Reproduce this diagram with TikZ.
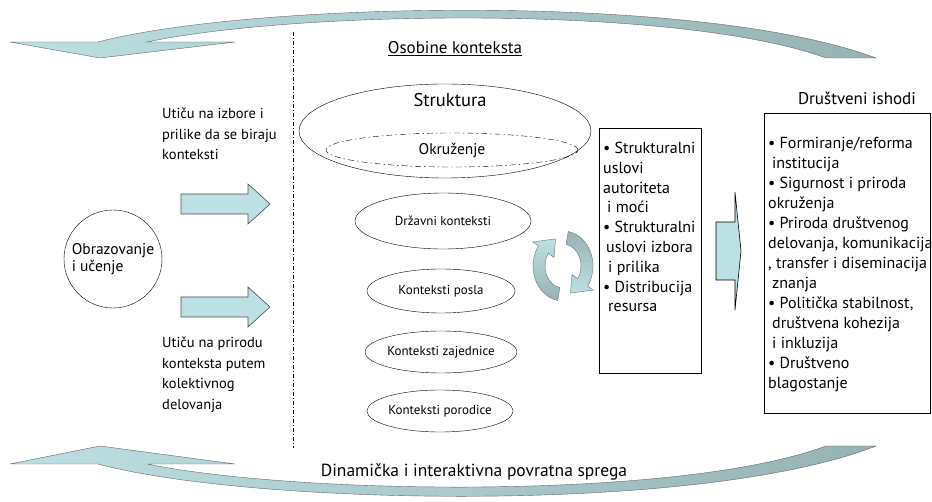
\documentclass[tikz,border=0pt]{standalone}
\usepackage{fontspec}
\setmainfont{PT Sans}
\usetikzlibrary{calc,shapes.geometric}
\definecolor{arrowlight}{HTML}{BCE0E3}
\definecolor{arrowdark}{HTML}{97B2B3}
\begin{document}
\begin{tikzpicture}[x=1pt, y=-1pt,
    blockarrow/.style={fill=arrowlight, draw=black!70, line width=0.6pt},
    feedback/.style={left color=arrowlight, right color=arrowdark, draw=black!60, line width=0.4pt},
    ctx/.style={draw, ellipse, inner sep=0pt, font=\fontsize{13}{15}\selectfont},
    txt/.style={anchor=north west, inner sep=0pt, align=left},
    box/.style={draw, anchor=north west, inner sep=0pt}]
    \useasboundingbox (0,0) rectangle (932,502);

    % povratna sprega
    \draw[feedback] (10,42) -- (98,42) .. controls (250,2) and (700,-8) .. (876,58) -- (826,58)
        .. controls (680,5) and (300,10) .. (147,42) -- (235,42) -- (100,58) -- cycle;
    \draw[feedback] (10,464) -- (98,464) .. controls (250,505) and (700,515) .. (876,446) -- (826,446)
        .. controls (680,500) and (300,495) .. (147,464) -- (235,464) -- (100,446) -- cycle;
    \node[font=\fontsize{17.5}{20}\selectfont] (sprega) at (474,472) {Dinamička i interaktivna povratna sprega};

    \draw[dash pattern=on 4pt off 2pt on 1pt off 2pt] (293,32) -- (293,448);

    % obrazovanje
    \node[draw, circle, minimum size=98pt, inner sep=0pt, align=left, font=\fontsize{15.5}{17}\selectfont] (obrazovanje) at (113,259) {Obrazovanje\\i učenje};
    \node[txt, font=\fontsize{14.5}{20.5}\selectfont] (izbor) at (162,108) {Utiču na izbore i\\prilike da se biraju\\konteksti};
    \node[txt, font=\fontsize{14.5}{20.5}\selectfont] (priroda) at (162,337) {Utiču na prirodu\\konteksta putem\\kolektivnog\\delovanja};
    \draw[blockarrow] (181,194) -- (248,194) -- (248,184) -- (270,204) -- (248,224) -- (248,214) -- (181,214) -- cycle;
    \draw[blockarrow] (181,297) -- (248,297) -- (248,287) -- (270,307) -- (248,327) -- (248,317) -- (181,317) -- cycle;

    % konteksti
    \node[font=\fontsize{17}{20}\selectfont] (osobine) at (455,49) {\underline{Osobine konteksta}};
    \node[draw, ellipse, minimum width=292pt, minimum height=94pt] (struktura) at (445,131) {};
    \node[font=\fontsize{18.5}{20}\selectfont] (strukturatxt) at (450,100) {Struktura};
    \node[draw, ellipse, dash pattern=on 6pt off 3pt on 1.5pt off 3pt, minimum width=252pt, minimum height=34pt,
        inner sep=0pt, font=\fontsize{15.5}{17}\selectfont] (okruzenje) at (452,150) {Okruženje};
    \node[ctx, minimum width=176pt, minimum height=56pt] (drzavni) at (443,221) {Državni konteksti};
    \node[ctx, minimum width=148pt, minimum height=44pt] (posla) at (441,291) {Konteksti posla};
    \node[ctx, minimum width=148pt, minimum height=42pt] (zajednice) at (441,352) {Konteksti zajednice};
    \node[ctx, minimum width=130pt, minimum height=42pt] (porodice) at (440,411) {Konteksti porodice};

    % kruzne strelice
    \coordinate (cyc) at (563,266);
    \draw[draw=black!55, top color=arrowlight, bottom color=arrowdark]
        ($(cyc)+(100:30 and 35)$) arc[start angle=100, end angle=215, x radius=30, y radius=35]
        -- ($(cyc)+(215:37 and 42)$) -- ($(cyc)+(252:24 and 28.5)$) -- ($(cyc)+(215:11 and 15)$)
        -- ($(cyc)+(215:18 and 22)$) arc[start angle=215, end angle=100, x radius=18, y radius=22] -- cycle;
    \draw[draw=black!55, top color=arrowdark, bottom color=arrowlight]
        ($(cyc)+(-80:30 and 35)$) arc[start angle=-80, end angle=35, x radius=30, y radius=35]
        -- ($(cyc)+(35:37 and 42)$) -- ($(cyc)+(72:24 and 28.5)$) -- ($(cyc)+(35:11 and 15)$)
        -- ($(cyc)+(35:18 and 22)$) arc[start angle=35, end angle=-80, x radius=18, y radius=22] -- cycle;

    % uslovi
    \node[box, minimum width=102pt, minimum height=245pt] (uslovibox) at (599,128) {};
    \node[txt, font=\fontsize{16}{19.8}\selectfont] (uslovi) at ($(uslovibox.north west)+(4,14)$)
        {• Strukturalni\\uslovi\\autoriteta\\\hspace{4pt}i moći\\• Strukturalni\\\hspace{3pt}uslovi izbora\\\hspace{5pt}i prilika\\• Distribucija\\\hspace{5pt}resursa};
    \draw[blockarrow, draw=black] (716,222) -- (735,222) -- (735,192) -- (741,251) -- (735,310) -- (735,280) -- (716,280) -- cycle;

    % ishodi
    \node[font=\fontsize{17}{20}\selectfont] (ishodi) at (857,98) {Društveni ishodi};
    \node[box, minimum width=166pt, minimum height=300pt] (ishodibox) at (764,113) {};
    \node[txt, font=\fontsize{16}{20}\selectfont] (ishoditxt) at ($(ishodibox.north west)+(4,24)$)
        {• Formiranje/reforma\\\hspace{4pt}institucija\\• Sigurnost i priroda\\okruženja\\• Priroda društvenog\\delovanja, komunikacija\\, transfer i diseminacija\\\hspace{4pt}znanja\\• Politička stabilnost,\\\hspace{4pt}društvena kohezija\\\hspace{4pt}i inkluzija\\• Društveno\\blagostanje};
\end{tikzpicture}
\end{document}
